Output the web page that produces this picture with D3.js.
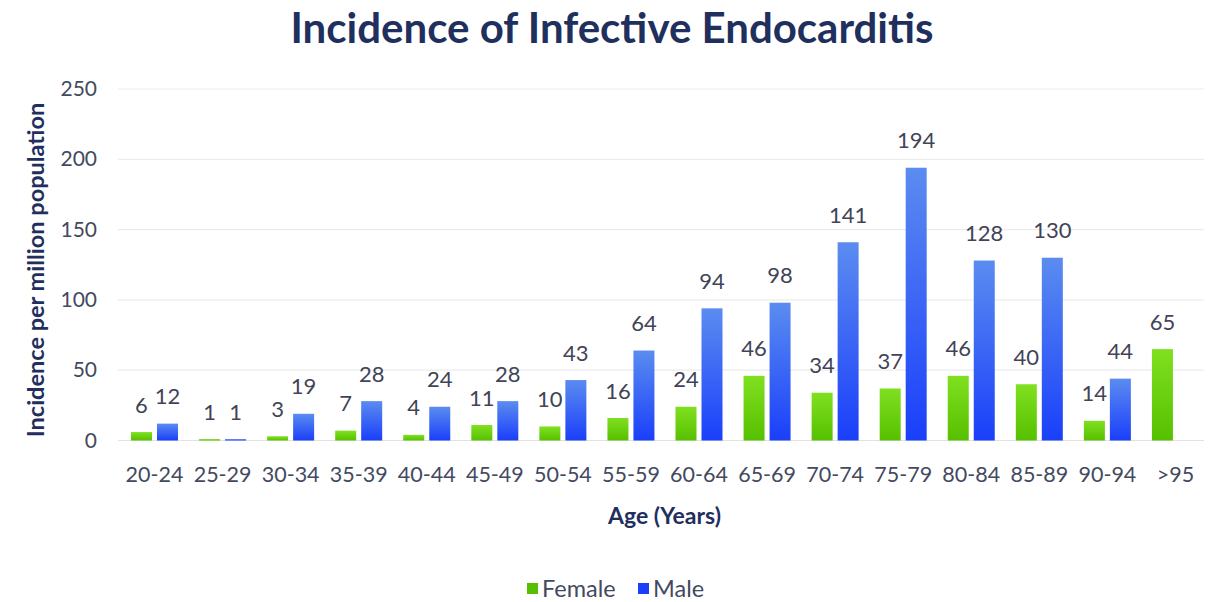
<!DOCTYPE html>
<html>
<head>
<meta charset="utf-8">
<script src="https://cdn.jsdelivr.net/npm/d3@7"></script>
<style>
  body { margin: 0; background: #fff; }
  text { font-family: Lato, "Open Sans", sans-serif; }
</style>
</head>
<body>
<div id="chart"></div>
<script>
// Age groups and incidence (per million population)
const ageGroups = ["20-24", "25-29", "30-34", "35-39", "40-44", "45-49", "50-54", "55-59",
                   "60-64", "65-69", "70-74", "75-79", "80-84", "85-89", "90-94", ">95"];
const female = [6, 1, 3, 7, 4, 11, 10, 16, 24, 46, 34, 37, 46, 40, 14, 65];
const male = [12, 1, 19, 28, 24, 28, 43, 64, 94, 98, 141, 194, 128, 130, 44, null];
const seriesNames = ["Female", "Male"];
const yTicks = [0, 50, 100, 150, 200, 250];

const width = 1209, height = 602;
const margin = {top: 89, right: 0, bottom: 161, left: 120};

const svg = d3.select("#chart").append("svg")
    .attr("width", width)
    .attr("height", height);

// gradients for the bars
const defs = svg.append("defs");
const grads = {
    Female: ["#80e020", "#56c000"],
    Male: ["#5b8cf0", "#1a3ffa"]
};
Object.keys(grads).forEach(k => {
    let g = defs.append("linearGradient")
        .attr("id", "grad-" + k)
        .attr("x1", 0).attr("y1", 0).attr("x2", 0).attr("y2", 1);
    g.append("stop").attr("offset", "0%").attr("stop-color", grads[k][0]);
    g.append("stop").attr("offset", "100%").attr("stop-color", grads[k][1]);
});

const x = d3.scaleBand()
    .domain(ageGroups)
    .range([margin.left + 0.5, width + 0.5]);

const x1 = d3.scaleBand()
    .domain(seriesNames)
    .range([10.5, 57.5])
    .paddingInner(0.1923);

const y = d3.scaleLinear()
    .domain([0, 250])
    .range([height - margin.bottom - 0.5, margin.top]);

// gridlines
svg.append("g")
    .selectAll("line")
    .data(yTicks)
    .join("line")
    .attr("x1", 118)
    .attr("x2", 1204)
    .attr("y1", d => y(d))
    .attr("y2", d => y(d))
    .attr("stroke", d => d === 0 ? "#e2e2e2" : "#ececec")
    .attr("stroke-width", 1.2);

// y tick labels
svg.append("g")
    .selectAll("text")
    .data(yTicks)
    .join("text")
    .attr("x", 97)
    .attr("y", d => y(d) + 7)
    .attr("text-anchor", "end")
    .attr("fill", "#434a60")
    .style("font-size", "21px")
    .text(d => d);

// y axis title
svg.append("text")
    .attr("transform", "translate(44," + 270 + ") rotate(-90)")
    .attr("text-anchor", "middle")
    .attr("fill", "#1f2f5e")
    .style("font-size", "23.5px")
    .style("font-weight", "bold")
    .text("Incidence per million population");

// build rows
const rows = ageGroups.map((a, i) => ({age: a, Female: female[i], Male: male[i]}));

const groups = svg.append("g")
    .selectAll("g")
    .data(rows)
    .join("g")
    .attr("transform", d => "translate(" + x(d.age) + ",0)");

const cells = groups.selectAll("g")
    .data(d => seriesNames.map(s => ({key: s, value: d[s]})).filter(c => c.value != null))
    .join("g");

cells.append("rect")
    .attr("x", d => x1(d.key))
    .attr("width", x1.bandwidth())
    .attr("y", d => y(d.value))
    .attr("height", d => y(0) - y(d.value))
    .attr("fill", d => "url(#grad-" + d.key + ")");

cells.append("text")
    .attr("x", d => x1(d.key) + x1.bandwidth() / 2)
    .attr("y", d => y(d.value) - 19.5)
    .attr("text-anchor", "middle")
    .attr("fill", "#3f4457")
    .style("font-size", "22px")
    .text(d => d.value);

// x tick labels
svg.append("g")
    .selectAll("text")
    .data(ageGroups)
    .join("text")
    .attr("x", d => x(d) + x.bandwidth() / 2)
    .attr("y", 482)
    .attr("text-anchor", "middle")
    .attr("fill", "#434a60")
    .style("font-size", "21.5px")
    .text(d => d);

// x axis title
svg.append("text")
    .attr("x", (margin.left + width) / 2)
    .attr("y", 524)
    .attr("text-anchor", "middle")
    .attr("fill", "#1f2f5e")
    .style("font-size", "23px")
    .style("font-weight", "bold")
    .text("Age (Years)");

// chart title
svg.append("text")
    .attr("x", 612)
    .attr("y", 43)
    .attr("text-anchor", "middle")
    .attr("fill", "#1f2f5e")
    .style("font-size", "42px")
    .style("font-weight", "bold")
    .text("Incidence of Infective Endocarditis");

// legend
const legendX = [527, 638];
const legend = svg.append("g")
    .selectAll("g")
    .data(seriesNames)
    .join("g")
    .attr("transform", (d, i) => "translate(" + legendX[i] + ",583)");

legend.append("rect")
    .attr("width", 11)
    .attr("height", 11)
    .attr("fill", d => grads[d][1]);

legend.append("text")
    .attr("x", 15)
    .attr("y", 14)
    .attr("fill", "#434a60")
    .style("font-size", "23.5px")
    .text(d => d);
</script>
</body>
</html>
